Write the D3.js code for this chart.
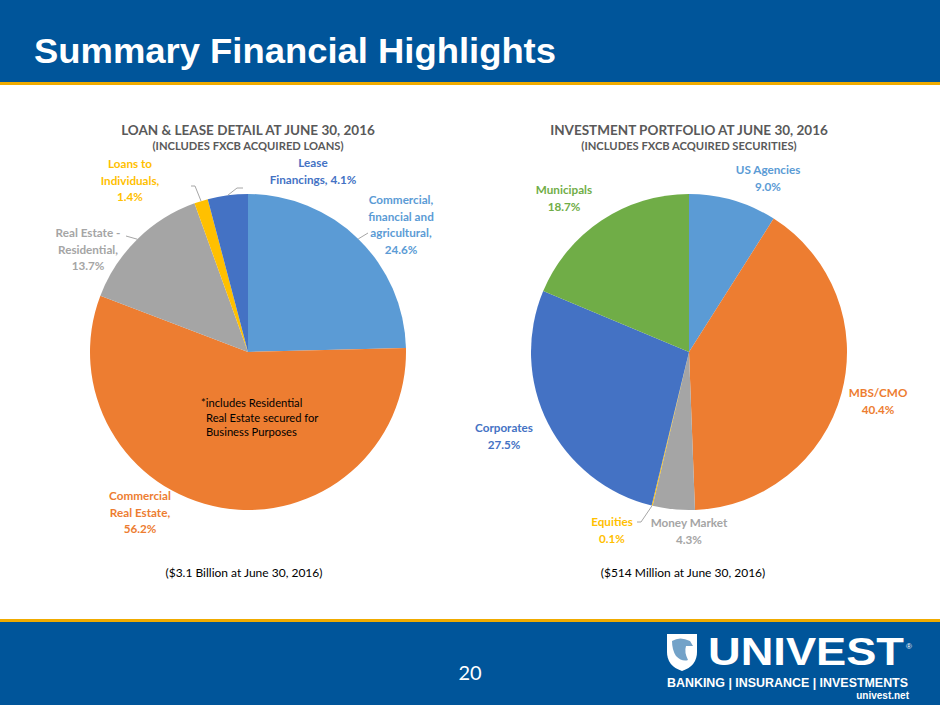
<!DOCTYPE html>
<html><head><meta charset="utf-8">
<script src="https://cdn.jsdelivr.net/npm/d3@7"></script>
<style>
html,body{margin:0;padding:0;background:#fff;}
svg{display:block;}
</style></head>
<body>
<svg id="c" width="940" height="705"></svg>
<script>
// ---- data ----
const loanCategories = ["Commercial, financial and agricultural", "Commercial Real Estate", "Real Estate - Residential", "Loans to Individuals", "Lease Financings"];
const loanValues = [24.6, 56.2, 13.7, 1.4, 4.1];
const loanLabelLines = [["Commercial,", "financial and", "agricultural,", "24.6%"], ["Commercial", "Real Estate,", "56.2%"], ["Real Estate -", "Residential,", "13.7%"], ["Loans to", "Individuals,", "1.4%"], ["Lease", "Financings, 4.1%"]];
const investCategories = ["US Agencies", "MBS/CMO", "Money Market", "Equities", "Corporates", "Municipals"];
const investValues = [9.0, 40.4, 4.3, 0.1, 27.5, 18.7];
const investLabelLines = [["US Agencies", "9.0%"], ["MBS/CMO", "40.4%"], ["Money Market", "4.3%"], ["Equities", "0.1%"], ["Corporates", "27.5%"], ["Municipals", "18.7%"]];
const pageTitle = "Summary Financial Highlights";
const loanTitle = ["LOAN & LEASE DETAIL AT JUNE 30, 2016", "(INCLUDES FXCB ACQUIRED LOANS)"];
const investTitle = ["INVESTMENT PORTFOLIO AT JUNE 30, 2016", "(INCLUDES FXCB ACQUIRED SECURITIES)"];
const loanNote = ["*includes Residential", "Real Estate secured for", "Business Purposes"];
const loanTotal = "($3.1 Billion at June 30, 2016)";
const investTotal = "($514 Million at June 30, 2016)";
const pageNumber = "20";

// ---- styles / layout ----
const palette = ["#5B9BD5", "#ED7D31", "#A5A5A5", "#FFC000", "#4472C4", "#70AD47"];
const BLUE = "#00559A", GOLD = "#F0AB00";
const FONT = "Lato, 'Open Sans', sans-serif";
const R = 158;
const lineH = 16.5;

const loanLabelPos = [
  {x: 401, y: 204, lead: true, end: [368, 233]},
  {x: 140, y: 500},
  {x: 88, y: 237, lead: true, end: [126, 236]},
  {x: 130, y: 168, lead: true, elbow: [195, 186], end: [191, 186]},
  {x: 313, y: 167, lead: true, elbow: [237, 188], end: [243, 188]}
];
const investLabelPos = [
  {x: 768, y: 174},
  {x: 878, y: 397},
  {x: 689, y: 527},
  {x: 612, y: 526, lead: true, elbow: [641, 522], end: [637, 522]},
  {x: 504, y: 432},
  {x: 564, y: 194}
];

const svg = d3.select("#c");

// header
svg.append("rect").attr("x", 0).attr("y", 0).attr("width", 940).attr("height", 83).attr("fill", BLUE);
svg.append("rect").attr("x", 0).attr("y", 82).attr("width", 940).attr("height", 3).attr("fill", GOLD);
svg.append("text").attr("x", 34).attr("y", 63).text(pageTitle)
  .attr("fill", "#fff").attr("font-family", "'Liberation Sans', Arial, sans-serif")
  .attr("font-weight", "bold").attr("font-size", 34.5)
  .attr("textLength", 522).attr("lengthAdjust", "spacingAndGlyphs");

// footer
svg.append("rect").attr("x", 0).attr("y", 619).attr("width", 940).attr("height", 3).attr("fill", GOLD);
svg.append("rect").attr("x", 0).attr("y", 622).attr("width", 940).attr("height", 83).attr("fill", BLUE);
svg.append("text").attr("x", 470).attr("y", 680).attr("text-anchor", "middle").text(pageNumber)
  .attr("fill", "#fff").attr("font-family", FONT).attr("font-size", 20);

// logo
const logo = svg.append("g");
logo.append("path")
  .attr("d", "M667,634 L697,634 L697,652 Q697,666 682,671 Q667,666 667,652 Z")
  .attr("fill", "#fff");
logo.append("path")
  .attr("d", "M672,641 Q680,636 690,641 L693,646 L686,646 Q684,652 688,660 Q682,662 676,656 Q672,650 672,641 Z")
  .attr("fill", BLUE).attr("opacity", 0.55);
logo.append("text").attr("x", 708).attr("y", 665).text("UNIVEST")
  .attr("fill", "#fff").attr("font-family", "'Liberation Sans', Arial, sans-serif").attr("font-weight", "bold")
  .attr("font-size", 39).attr("textLength", 196).attr("lengthAdjust", "spacingAndGlyphs");
logo.append("text").attr("x", 906).attr("y", 649).text("®")
  .attr("fill", "#fff").attr("font-family", "'Liberation Sans', Arial, sans-serif").attr("font-size", 8);
logo.append("text").attr("x", 667).attr("y", 687).text("BANKING | INSURANCE | INVESTMENTS")
  .attr("fill", "#fff").attr("font-family", "'Liberation Sans', Arial, sans-serif").attr("font-weight", "bold")
  .attr("font-size", 13).attr("textLength", 241).attr("lengthAdjust", "spacingAndGlyphs");
logo.append("text").attr("x", 909).attr("y", 699).attr("text-anchor", "end").text("univest.net")
  .attr("fill", "#fff").attr("font-family", "'Liberation Sans', Arial, sans-serif").attr("font-weight", "bold")
  .attr("font-size", 10);

function drawPie(cx, cy, values, labels, pos, titles, total, totalX) {
  const g = svg.append("g").attr("transform", `translate(${cx},${cy})`);
  const pie = d3.pie().sort(null).value(d => d);
  const arcs = pie(values);
  const arc = d3.arc().innerRadius(0).outerRadius(R);
  g.selectAll("path.slice").data(arcs).join("path").attr("class", "slice")
    .attr("d", arc).attr("fill", (d, i) => palette[i]);

  svg.append("text").attr("x", cx).attr("y", 135).attr("text-anchor", "middle").text(titles[0])
    .attr("fill", "#595959").attr("font-family", FONT).attr("font-weight", "bold").attr("font-size", 13.5);
  svg.append("text").attr("x", cx).attr("y", 150).attr("text-anchor", "middle").text(titles[1])
    .attr("fill", "#595959").attr("font-family", FONT).attr("font-weight", "bold").attr("font-size", 11.2);

  arcs.forEach((a, i) => {
    const p = pos[i];
    if (!p.lead) return;
    const mid = (a.startAngle + a.endAngle) / 2;
    const sx = cx + R * Math.sin(mid), sy = cy - R * Math.cos(mid);
    const pts = [[sx, sy]];
    if (p.elbow) pts.push(p.elbow);
    pts.push(p.end);
    svg.append("path").attr("d", d3.line()(pts)).attr("fill", "none")
      .attr("stroke", "#A6A6A6").attr("stroke-width", 1);
  });

  labels.forEach((lines, i) => {
    const p = pos[i];
    const t = svg.append("text").attr("text-anchor", "middle")
      .attr("fill", palette[i]).attr("font-family", FONT).attr("font-weight", "bold").attr("font-size", 11.7);
    lines.forEach((ln, j) => t.append("tspan").attr("x", p.x).attr("y", p.y + j * lineH).text(ln));
  });

  svg.append("text").attr("x", totalX).attr("y", 577).attr("text-anchor", "middle").text(total)
    .attr("fill", "#000").attr("font-family", FONT).attr("font-size", 12);
}

drawPie(248, 352, loanValues, loanLabelLines, loanLabelPos, loanTitle, loanTotal, 244);
drawPie(689, 352, investValues, investLabelLines, investLabelPos, investTitle, investTotal, 683);

const note = svg.append("text").attr("fill", "#000").attr("font-family", FONT).attr("font-size", 11.2);
loanNote.forEach((ln, j) => note.append("tspan").attr("x", j === 0 ? 201 : 206).attr("y", 407 + j * 14.5).text(ln));
</script>
</body></html>
